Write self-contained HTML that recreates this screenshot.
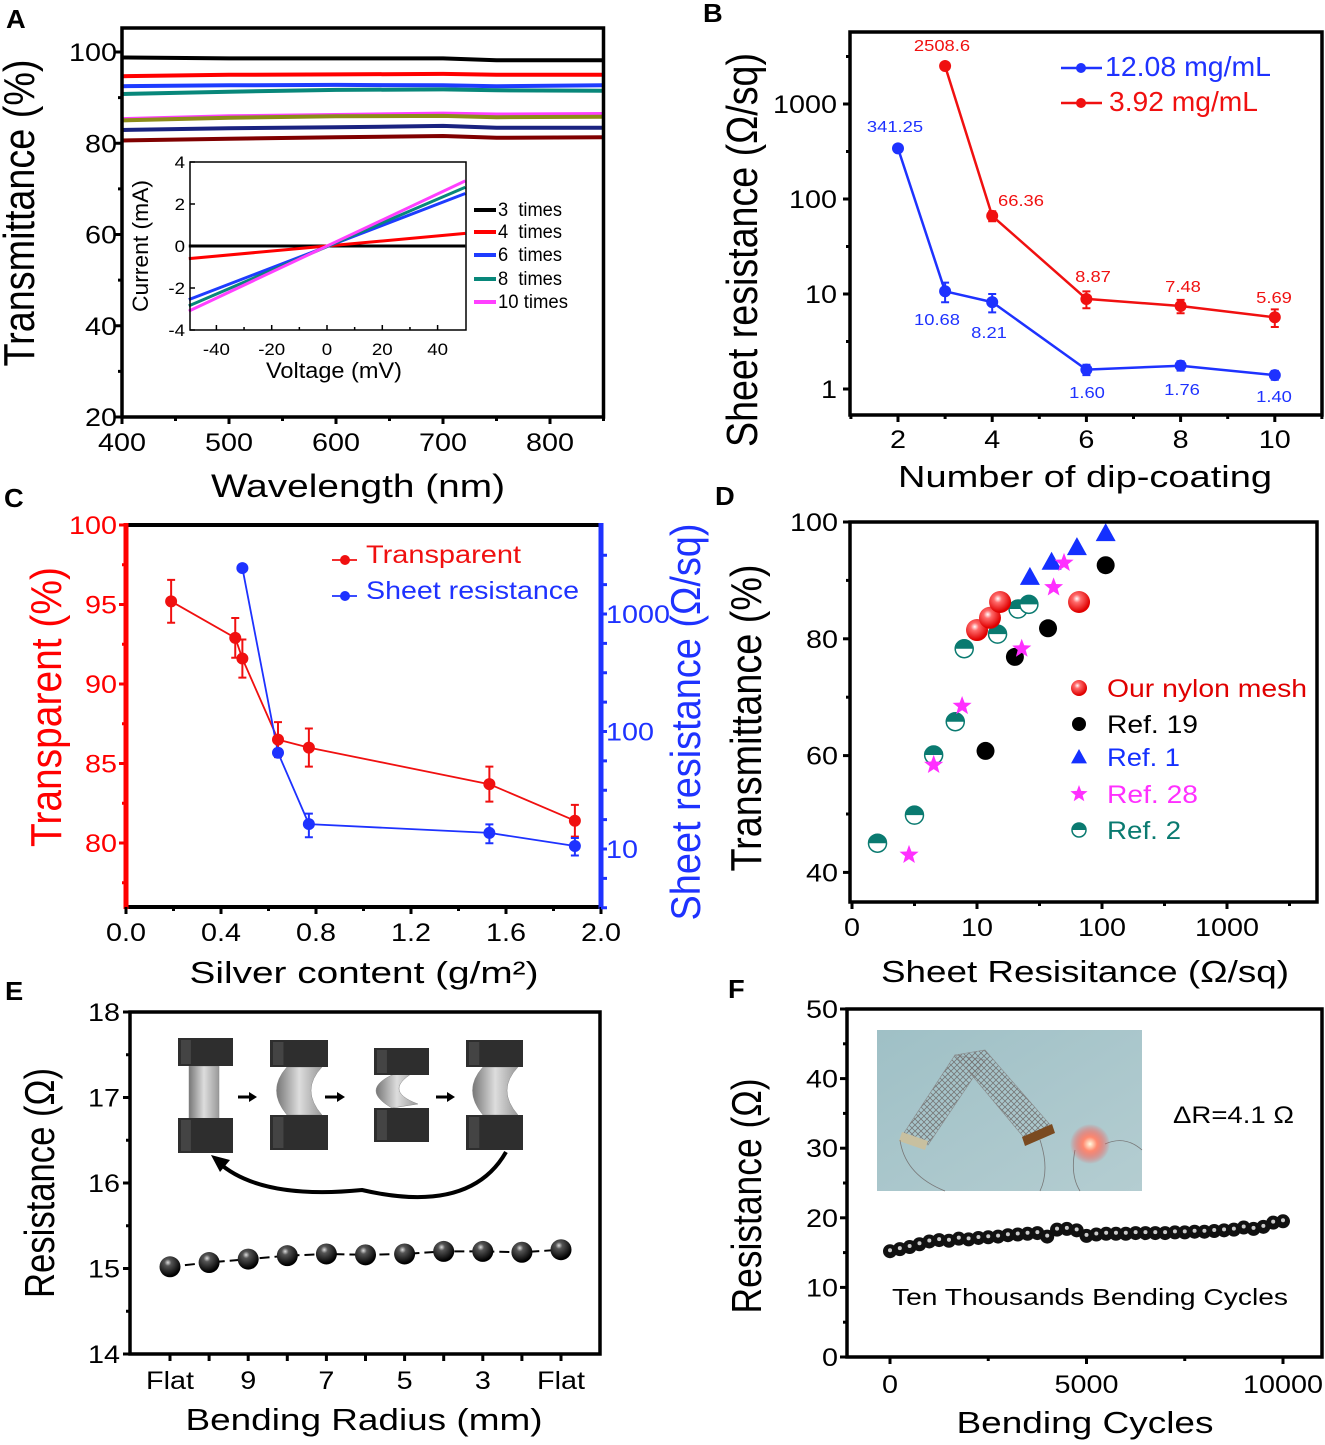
<!DOCTYPE html>
<html><head><meta charset="utf-8"><style>
html,body{margin:0;padding:0;background:#fff;}
svg{display:block;font-family:"Liberation Sans",Arial,sans-serif;}
text{white-space:pre;}
</style></head><body>
<svg id="fig" xmlns="http://www.w3.org/2000/svg" width="1325" height="1445" viewBox="0 0 1325 1445">
<defs>
<radialGradient id="gRed" cx="0.4" cy="0.35" r="0.6"><stop offset="0" stop-color="#fff"/><stop offset="0.3" stop-color="#ff6a6a"/><stop offset="1" stop-color="#e00000"/></radialGradient>
<radialGradient id="gBlk" cx="0.4" cy="0.3" r="0.65"><stop offset="0" stop-color="#ddd"/><stop offset="0.25" stop-color="#555"/><stop offset="1" stop-color="#000"/></radialGradient>
<radialGradient id="gLed" cx="0.5" cy="0.5" r="0.5"><stop offset="0" stop-color="#fffbe0"/><stop offset="0.35" stop-color="#ff8a70"/><stop offset="1" stop-color="#ff3030" stop-opacity="0"/></radialGradient>
<linearGradient id="gStrip" x1="0" x2="1"><stop offset="0" stop-color="#777"/><stop offset="0.5" stop-color="#ddd"/><stop offset="1" stop-color="#999"/></linearGradient>
<linearGradient id="gPhoto" x1="0" y1="0" x2="1" y2="1"><stop offset="0" stop-color="#9fc0c6"/><stop offset="1" stop-color="#b4cdd1"/></linearGradient>
<pattern id="mesh" width="6" height="6" patternUnits="userSpaceOnUse"><path d="M0 0L6 6M6 0L0 6" stroke="#777" stroke-width="0.8"/></pattern>
</defs>
</svg>
<script>
// ---------- DATA ----------
// Panel A
const aWavelengths = [400, 500, 600, 700, 750, 850];
const aS3  = [98.8, 98.6, 98.6, 98.6, 98.2, 98.2];
const aS4  = [94.7, 95.0, 95.1, 95.2, 95.0, 95.0];
const aS6  = [92.5, 92.7, 92.8, 92.7, 92.5, 92.7];
const aS8  = [90.8, 91.3, 91.7, 91.8, 91.6, 91.5];
const aS10 = [85.3, 85.9, 86.2, 86.5, 86.3, 86.4];
const aSol = [85.0, 85.6, 85.9, 86.0, 85.7, 85.8];
const aSnv = [82.9, 83.3, 83.5, 83.8, 83.4, 83.4];
const aSdr = [80.6, 81.0, 81.3, 81.6, 81.2, 81.3];
const aYTicks = [20, 40, 60, 80, 100];
const aXTicks = [400, 500, 600, 700, 800];
const insetV = [-50, 50];
const insetI3 = [0, 0];
const insetI4 = [-0.6, 0.6];
const insetI6 = [-2.55, 2.5];
const insetI8 = [-2.85, 2.8];
const insetI10 = [-3.1, 3.1];
const insetLegend = ["3  times", "4  times", "6  times", "8  times", "10 times"];
// Panel B
const bXBlue = [2, 3, 4, 6, 8, 10];
const bBlue = [341.25, 10.68, 8.21, 1.60, 1.76, 1.40];
const bBlueErr = [0, 2.5, 1.8, 0.2, 0.2, 0.15];
const bBlueLbl = ["341.25", "10.68", "8.21", "1.60", "1.76", "1.40"];
const bXRed = [3, 4, 6, 8, 10];
const bRed = [2508.6, 66.36, 8.87, 7.48, 5.69];
const bRedErr = [0, 8, 1.8, 1.2, 1.2];
const bRedLbl = ["2508.6", "66.36", "8.87", "7.48", "5.69"];
const bXTicks = [2, 4, 6, 8, 10];
const bYTicks = [1, 10, 100, 1000];
// Panel C
const cX = [0.19, 0.46, 0.49, 0.64, 0.77, 1.53, 1.89];
const cT = [95.2, 92.9, 91.6, 86.5, 86.0, 83.7, 81.4];
const cTErr = [1.35, 1.25, 1.2, 1.1, 1.2, 1.1, 1.0];
const cXR = [0.49, 0.64, 0.77, 1.53, 1.89];
const cR = [2460, 66, 16.3, 13.7, 10.6];
const cRErr = [0, 5, 3.7, 2.5, 1.8];
const cXTicks = [0.0, 0.4, 0.8, 1.2, 1.6, 2.0];
const cLTicks = [80, 85, 90, 95, 100];
const cRTicks = [10, 100, 1000];
// Panel D
const dOurX = [10.0, 12.7, 15.3, 65.5];   const dOurY = [81.5, 83.6, 86.3, 86.3];
const dR19X = [11.7, 20.1, 37, 107];      const dR19Y = [60.8, 76.9, 81.8, 92.6];
const dR1X = [26.5, 39.5, 63, 107];       const dR1Y = [90.6, 93.2, 95.7, 98.1];
const dR28X = [2.86, 4.5, 7.6, 22.8, 41, 49.7]; const dR28Y = [43.0, 58.4, 68.5, 78.3, 88.8, 93.0];
const dR2X = [1.6, 3.16, 4.5, 6.7, 7.9, 14.6, 21.3, 26]; const dR2Y = [45.0, 49.8, 60.1, 65.8, 78.3, 80.8, 85.1, 85.9];
const dXTicks = [1, 10, 100, 1000];
const dXLabels = ["0", "10", "100", "1000"];
const dYTicks = [40, 60, 80, 100];
// Panel E
const eCats = ["Flat", "", "9", "", "7", "", "5", "", "3", "", "Flat"];
const eVals = [15.02, 15.07, 15.11, 15.15, 15.17, 15.16, 15.17, 15.20, 15.20, 15.19, 15.22];
const eYTicks = [14, 15, 16, 17, 18];
// Panel F
const fCycles = [0,250,500,750,1000,1250,1500,1750,2000,2250,2500,2750,3000,3250,3500,3750,4000,4250,4500,4750,5000,5250,5500,5750,6000,6250,6500,6750,7000,7250,7500,7750,8000,8250,8500,8750,9000,9250,9500,9750,10000];
const fVals = [15.2,15.5,15.8,16.2,16.6,16.8,16.7,17.0,16.9,17.1,17.2,17.3,17.5,17.6,17.7,17.8,17.3,18.3,18.4,18.2,17.4,17.6,17.7,17.7,17.7,17.8,17.8,17.8,17.8,17.9,17.9,18.0,18.0,18.1,18.2,18.3,18.6,18.4,18.7,19.3,19.5];
const fXTicks = [0, 5000, 10000];
const fYTicks = [0, 10, 20, 30, 40, 50];

// ---------- HELPERS ----------
const NS = 'http://www.w3.org/2000/svg';
const svg = document.getElementById('fig');
const TK = 25, TKS = 1.15;
function E(tag, attrs, parent) {
  const e = document.createElementNS(NS, tag);
  for (const k in attrs) e.setAttribute(k, attrs[k]);
  (parent || svg).appendChild(e);
  return e;
}
function G(name) {
  const g = E('g', {});
  
  
  return g;
}
function T(g, x, y, s, size, name, o) {
  o = o || {};
  const t = E('text', {'font-size': size, 'text-anchor': o.a || 'middle', fill: o.f || '#000'}, g);
  if (o.w) t.setAttribute('font-weight', o.w);
  if (o.len) { t.setAttribute('textLength', o.len); t.setAttribute('lengthAdjust', 'spacingAndGlyphs'); }
  if (o.r) t.setAttribute('transform', `translate(${x},${y}) rotate(-90) scale(1,${o.sy || 1.1})`);
  else if (o.len) { t.setAttribute('x', x); t.setAttribute('y', y); }
  else t.setAttribute('transform', `translate(${x},${y}) scale(${o.sx || TKS},1)`);
  t.textContent = s;
  
  
  return t;
}
function L(g, x1, y1, x2, y2, stroke, w, name, dash) {
  const l = E('line', {x1, y1, x2, y2, stroke, 'stroke-width': w}, g);
  if (dash) l.setAttribute('stroke-dasharray', dash);
  
  
  return l;
}
function box(g, x0, y0, x1, y1, w, name) {
  const r = E('rect', {x: x0, y: y0, width: x1 - x0, height: y1 - y0, fill: 'none', stroke: '#000', 'stroke-width': w || 3.5}, g);
  
  
}
function poly(g, xs, ys, sx, sy, stroke, w, name, dash) {
  const pts = xs.map((v, i) => sx(v).toFixed(1) + ',' + sy(ys[i]).toFixed(1)).join(' ');
  const p = E('polyline', {points: pts, fill: 'none', stroke, 'stroke-width': w, 'stroke-linejoin': 'round'}, g);
  if (dash) p.setAttribute('stroke-dasharray', dash);
  
  
}
function dot(g, x, y, r, fill, name, stroke) {
  const c = E('circle', {cx: x, cy: y, r, fill}, g);
  if (stroke) { c.setAttribute('stroke', stroke); c.setAttribute('stroke-width', 1); }
  
  
  return c;
}
function errbar(g, x, y1, y2, color, name) {
  const p = E('path', {d: `M${x},${y1}V${y2}M${x - 4},${y1}h8M${x - 4},${y2}h8`, stroke: color, 'stroke-width': 2, fill: 'none'}, g);
  
  
}
function letter(x, y, s) { const g = G('panel-label-' + s); T(g, x, y, s, 26, 'panel-letter-' + s, {a: 'start', w: 'bold', sx: 1.05}); }
const lg = v => Math.log10(v);

// ---------- PANEL A ----------
(function () {
  const g = G('panel-a');
  const ax = v => 122 + (v - 400) * (481.5 / 450);
  const ay = v => 52 + (100 - v) * 4.5625;
  const series = [[aS3, '#000'], [aS4, '#f00'], [aS6, '#1e3cff'], [aS8, '#08877a'], [aS10, '#ff40ff'], [aSol, '#8c8c18'], [aSnv, '#1a2280'], [aSdr, '#800000']];
  series.forEach((s, i) => poly(g, aWavelengths, s[0], ax, ay, s[1], 4, 'transmittance-line-' + i));
  box(g, 122, 28, 603.5, 417, 3.5, 'plot-frame-a');
  aXTicks.forEach(v => { L(g, ax(v), 417, ax(v), 424, '#000', 3, 'x-tick-a'); T(g, ax(v), 451, String(v), TK, 'x-tick-label-a'); });
  [450, 550, 650, 750, 850].forEach(v => L(g, ax(v), 417, ax(v), 421, '#000', 3, 'x-minor-tick-a'));
  aYTicks.forEach(v => { L(g, 115, ay(v), 122, ay(v), '#000', 3, 'y-tick-a'); T(g, 117, ay(v) + 9, String(v), TK, 'y-tick-label-a', {a: 'end'}); });
  [30, 50, 70, 90].forEach(v => L(g, 118, ay(v), 122, ay(v), '#000', 3, 'y-minor-tick-a'));
  T(g, 358, 497, 'Wavelength (nm)', 32, 'x-axis-title-a', {len: 294});
  T(g, 34, 213, 'Transmittance (%)', 40, 'y-axis-title-a', {r: true, len: 307});
  const ig = G('inset-iv-curves');
  const ix = v => 327 + v * 2.765;
  const iy = v => 246 - v * 21;
  E('rect', {x: 190, y: 162, width: 276, height: 168, fill: '#fff'}, ig);
  const ser = [[insetI3, '#000'], [insetI4, '#f00'], [insetI6, '#1e3cff'], [insetI8, '#08877a'], [insetI10, '#ff40ff']];
  ser.forEach((s, i) => poly(ig, insetV, s[0], ix, iy, s[1], 3, 'iv-line-' + i));
  box(ig, 190, 162, 466, 330, 1.5, 'inset-frame');
  [-40, -20, 0, 20, 40].forEach(v => { L(ig, ix(v), 330, ix(v), 325, '#000', 1.5, 'inset-x-tick'); T(ig, ix(v), 355, String(v), 17, 'inset-x-tick-label', {sx: 1.1}); });
  [-30, -10, 10, 30].forEach(v => L(ig, ix(v), 330, ix(v), 327, '#000', 1.5, 'inset-x-minor-tick'));
  [-4, -2, 0, 2, 4].forEach(v => { L(ig, 190, iy(v), 195, iy(v), '#000', 1.5, 'inset-y-tick'); T(ig, 185, iy(v) + 6, String(v), 17, 'inset-y-tick-label', {a: 'end', sx: 1.1}); });
  T(ig, 334, 378, 'Voltage (mV)', 22, 'inset-x-axis-title', {len: 136});
  T(ig, 148, 246, 'Current (mA)', 22, 'inset-y-axis-title', {r: true, len: 132, sy: 1});
  const ly = [208, 230, 253, 277, 300];
  ser.forEach((s, i) => { L(ig, 474, ly[i] + 2, 496, ly[i] + 2, s[1], 4, 'inset-legend-swatch'); T(ig, 498, ly[i] + 8, insetLegend[i], 19, 'inset-legend-label', {a: 'start', len: i === 4 ? 70 : 64}); });
  letter(6, 28, 'A');
})();

// ---------- PANEL B ----------
(function () {
  const g = G('panel-b');
  const bx = v => 898 + (v - 2) * 47.1;
  const by = v => 389 - lg(v) * 95;
  poly(g, bXBlue, bBlue, bx, by, '#1e32ff', 2.5, 'blue-series-line');
  poly(g, bXRed, bRed, bx, by, '#f01010', 2.5, 'red-series-line');
  bXBlue.forEach((x, i) => { if (bBlueErr[i]) errbar(g, bx(x), by(bBlue[i] + bBlueErr[i]), by(bBlue[i] - bBlueErr[i]), '#1e32ff', 'blue-error-bar'); dot(g, bx(x), by(bBlue[i]), 6, '#1e32ff', 'blue-point'); });
  bXRed.forEach((x, i) => { if (bRedErr[i]) errbar(g, bx(x), by(bRed[i] + bRedErr[i]), by(bRed[i] - bRedErr[i]), '#f01010', 'red-error-bar'); dot(g, bx(x), by(bRed[i]), 6, '#f01010', 'red-point'); });
  const bl = [[895, 132], [937, 325], [989, 338], [1087, 398], [1182, 395], [1274, 402]];
  bBlueLbl.forEach((s, i) => T(g, bl[i][0], bl[i][1], s, 16, 'blue-value-label', {f: '#1e32ff', sx: 1.15}));
  const rl = [[942, 51], [1021, 206], [1093, 282], [1183, 292], [1274, 303]];
  bRedLbl.forEach((s, i) => T(g, rl[i][0], rl[i][1], s, 16, 'red-value-label', {f: '#f01010', sx: 1.15}));
  box(g, 850, 32, 1322, 415, 3.5, 'plot-frame-b');
  bXTicks.forEach(v => { L(g, bx(v), 415, bx(v), 422, '#000', 3, 'x-tick-b'); T(g, bx(v), 448, String(v), TK, 'x-tick-label-b'); });
  [1, 3, 5, 7, 9, 11].forEach(v => L(g, bx(v), 415, bx(v), 419, '#000', 3, 'x-minor-tick-b'));
  bYTicks.forEach(v => { L(g, 843, by(v), 850, by(v), '#000', 3, 'y-tick-b'); T(g, 837, by(v) + 9, String(v), TK, 'y-tick-label-b', {a: 'end'}); });
  [0.5, 1.5, 2.5, 3.5].forEach(e => L(g, 846, 389 - e * 95, 850, 389 - e * 95, '#000', 3, 'y-minor-tick-b'));
  T(g, 1085, 487, 'Number of dip-coating', 31, 'x-axis-title-b', {len: 374});
  T(g, 757, 250, 'Sheet resistance (\u03A9/sq)', 40, 'y-axis-title-b', {r: true, len: 394});
  L(g, 1061, 68, 1102, 68, '#1e32ff', 2.5, 'legend-swatch-blue'); dot(g, 1081, 68, 5, '#1e32ff', 'legend-marker-blue');
  L(g, 1061, 103, 1102, 103, '#f01010', 2.5, 'legend-swatch-red'); dot(g, 1081, 103, 5, '#f01010', 'legend-marker-red');
  T(g, 1105, 76, '12.08 mg/mL', 28, 'legend-label-blue', {a: 'start', f: '#1e32ff', len: 166});
  T(g, 1109, 111, '3.92 mg/mL', 28, 'legend-label-red', {a: 'start', f: '#f01010', len: 149});
  letter(703, 22, 'B');
})();

// ---------- PANEL C ----------
(function () {
  const g = G('panel-c');
  const cx = v => 126 + v * 237.5;
  const cyL = v => 525 + (100 - v) * 15.9;
  const cyR = v => 849 - (lg(v) - 1) * 117.5;
  poly(g, cX, cT, cx, cyL, '#f01010', 1.8, 'transparency-line');
  poly(g, cXR, cR, cx, cyR, '#1e32ff', 1.8, 'resistance-line');
  cX.forEach((x, i) => { errbar(g, cx(x), cyL(cT[i] + cTErr[i]), cyL(cT[i] - cTErr[i]), '#f01010', 'transparency-error-bar'); dot(g, cx(x), cyL(cT[i]), 6, '#f01010', 'transparency-point'); });
  cXR.forEach((x, i) => { if (cRErr[i]) errbar(g, cx(x), cyR(cR[i] + cRErr[i]), cyR(cR[i] - cRErr[i]), '#1e32ff', 'resistance-error-bar'); dot(g, cx(x), cyR(cR[i]), 6, '#1e32ff', 'resistance-point'); });
  L(g, 126, 525, 601, 525, '#000', 4, 'top-frame-c');
  L(g, 126, 907, 601, 907, '#000', 4, 'bottom-frame-c');
  L(g, 126, 523, 126, 909, '#f00', 5, 'left-axis-c');
  L(g, 601, 523, 601, 909, '#1e32ff', 5, 'right-axis-c');
  cXTicks.forEach(v => { L(g, cx(v), 907, cx(v), 914, '#000', 3, 'x-tick-c'); T(g, cx(v), 941, v.toFixed(1), TK, 'x-tick-label-c'); });
  [0.2, 0.6, 1.0, 1.4, 1.8].forEach(v => L(g, cx(v), 907, cx(v), 911, '#000', 3, 'x-minor-tick-c'));
  cLTicks.forEach(v => { L(g, 119, cyL(v), 126, cyL(v), '#f00', 3, 'left-tick-c'); T(g, 117, cyL(v) + 9, String(v), TK, 'left-tick-label-c', {a: 'end', f: '#f00'}); });
  [77.5, 82.5, 87.5, 92.5, 97.5].forEach(v => L(g, 122, cyL(v), 126, cyL(v), '#f00', 3, 'left-minor-tick-c'));
  cRTicks.forEach(v => T(g, 606, cyR(v) + 9, String(v), TK, 'right-tick-label-c', {a: 'start', f: '#1e32ff'}));
  [0.5, 0.75, 1, 1.25, 1.5, 1.75, 2, 2.25, 2.5, 2.75, 3, 3.25, 3.5].forEach(e => L(g, 601, 849 - (e - 1) * 117.5, 607, 849 - (e - 1) * 117.5, '#1e32ff', 3, 'right-tick-c'));
  T(g, 364, 983, 'Silver content (g/m\u00B2)', 31, 'x-axis-title-c', {len: 349});
  T(g, 61, 707, 'Transparent (%)', 40, 'left-axis-title-c', {r: true, len: 280, f: '#f00'});
  T(g, 700, 722, 'Sheet resistance (\u03A9/sq)', 38, 'right-axis-title-c', {r: true, len: 397, f: '#1e32ff'});
  L(g, 332, 560, 357, 560, '#f01010', 1.8, 'legend-swatch-transparent'); dot(g, 345, 560, 5, '#f01010', 'legend-marker-transparent');
  L(g, 332, 596, 357, 596, '#1e32ff', 1.8, 'legend-swatch-resistance'); dot(g, 345, 596, 5, '#1e32ff', 'legend-marker-resistance');
  T(g, 366, 563, 'Transparent', 25, 'legend-label-transparent', {a: 'start', f: '#f01010', len: 155});
  T(g, 366, 599, 'Sheet resistance', 25, 'legend-label-resistance', {a: 'start', f: '#1e32ff', len: 213});
  letter(4, 507, 'C');
})();

// ---------- PANEL D ----------
function tri(g, x, y, s, name) { const p = E('path', {d: `M${x},${y - s}L${x + s},${y + s * 0.8}L${x - s},${y + s * 0.8}Z`, fill: '#1430ff'}, g);   }
function star(g, x, y, r, name) {
  let d = '';
  for (let k = 0; k < 10; k++) { const a = -Math.PI / 2 + k * Math.PI / 5; const rr = k % 2 ? r * 0.42 : r; d += (k ? 'L' : 'M') + (x + rr * Math.cos(a)).toFixed(1) + ',' + (y + rr * Math.sin(a)).toFixed(1); }
  const p = E('path', {d: d + 'Z', fill: '#ff30ff'}, g);  
}
function half(g, x, y, r, name) {
  const c = dot(g, x, y, r, '#fff', name, '#0a7a70'); c.setAttribute('stroke-width', 1.5);
  const p = E('path', {d: `M${x - r},${y}A${r},${r} 0 0 1 ${x + r},${y}Z`, fill: '#0a7a70'}, g);  
}
(function () {
  const g = G('panel-d');
  const dx = v => 852 + lg(v) * 125;
  const dy = v => 522 + (100 - v) * 5.84;
  dR2X.forEach((x, i) => half(g, dx(x), dy(dR2Y[i]), 9, 'ref2-point'));
  dR19X.forEach((x, i) => dot(g, dx(x), dy(dR19Y[i]), 9, '#000', 'ref19-point'));
  dOurX.forEach((x, i) => dot(g, dx(x), dy(dOurY[i]), 11, 'url(#gRed)', 'our-mesh-point'));
  dR1X.forEach((x, i) => tri(g, dx(x), dy(dR1Y[i]), 10, 'ref1-point'));
  dR28X.forEach((x, i) => star(g, dx(x), dy(dR28Y[i]), 10, 'ref28-point'));
  box(g, 850, 522, 1317, 902, 3.5, 'plot-frame-d');
  dXTicks.forEach((v, i) => { L(g, dx(v), 902, dx(v), 909, '#000', 3, 'x-tick-d'); T(g, dx(v), 936, dXLabels[i], TK, 'x-tick-label-d'); });
  [0.5, 1.5, 2.5, 3.5].forEach(e => L(g, 852 + e * 125, 902, 852 + e * 125, 906, '#000', 3, 'x-minor-tick-d'));
  dYTicks.forEach(v => { L(g, 843, dy(v), 850, dy(v), '#000', 3, 'y-tick-d'); T(g, 838, dy(v) + 9, String(v), TK, 'y-tick-label-d', {a: 'end'}); });
  [50, 70, 90].forEach(v => L(g, 846, dy(v), 850, dy(v), '#000', 3, 'y-minor-tick-d'));
  T(g, 1085, 982, 'Sheet Resisitance (\u03A9/sq)', 31, 'x-axis-title-d', {len: 408});
  T(g, 761, 718, 'Transmittance (%)', 40, 'y-axis-title-d', {r: true, len: 307});
  const lx = 1079, ly = [688, 724, 757, 794, 830];
  dot(g, lx, ly[0], 8, 'url(#gRed)', 'legend-marker-our');
  dot(g, lx, ly[1], 7, '#000', 'legend-marker-ref19');
  tri(g, lx, ly[2], 8, 'legend-marker-ref1');
  star(g, lx, ly[3], 9, 'legend-marker-ref28');
  half(g, lx, ly[4], 7, 'legend-marker-ref2');
  const names = [['Our nylon mesh', '#e00000', 200], ['Ref. 19', '#000', 91], ['Ref. 1', '#1430ff', 73], ['Ref. 28', '#ff30ff', 91], ['Ref. 2', '#0a7a70', 74]];
  names.forEach((n, i) => T(g, 1107, ly[i] + 9, n[0], 25, 'legend-label-d', {a: 'start', f: n[1], len: n[2]}));
  letter(715, 505, 'D');
})();

// ---------- PANEL E ----------
(function () {
  const g = G('panel-e');
  const ex = i => 170 + i * 39.1;
  const ey = v => 1012 + (18 - v) * 85.5;
  const il = G('bending-illustration');
  function blk(x, y, w, h) { const r = E('rect', {x, y, width: w, height: h, fill: '#2e2e2e'}, il);   const s = E('rect', {x: x + 3, y: y + 2, width: w * 0.18, height: h - 4, fill: '#444'}, il);   }
  function strip(d) { const p = E('path', {d, fill: 'url(#gStrip)', stroke: '#888', 'stroke-width': 0.5}, il);   }
  strip('M189,1066L219,1066L219,1118L189,1124Z');
  strip('M287,1067L322,1067Q300,1090 322,1115L287,1115Q266,1090 287,1067Z');
  strip('M392,1075L418,1070Q380,1090 418,1104L392,1108Q360,1090 392,1075Z');
  strip('M483,1067L518,1067Q496,1090 518,1115L483,1115Q462,1090 483,1067Z');
  blk(178, 1038, 55, 28); blk(178, 1118, 55, 35);
  blk(270, 1040, 58, 27); blk(270, 1115, 58, 35);
  blk(374, 1048, 55, 27); blk(374, 1108, 55, 34);
  blk(466, 1040, 57, 27); blk(466, 1115, 57, 35);
  [[238, 257], [325, 345], [436, 455]].forEach(a => { const p = E('path', {d: `M${a[0]},1097H${a[1] - 6}`, stroke: '#000', 'stroke-width': 3}, il);   const h = E('path', {d: `M${a[1]},1097L${a[1] - 8},1092L${a[1] - 8},1102Z`, fill: '#000'}, il);   });
  const ca = E('path', {d: 'M506,1152Q470,1215 362,1190Q260,1200 218,1162', stroke: '#000', 'stroke-width': 4, fill: 'none'}, il);
  
  
  const cah = E('path', {d: 'M211,1155L230,1160L220,1172Z', fill: '#000'}, il);
  
  
  poly(g, eVals.map((v, i) => i), eVals, ex, ey, '#000', 2, 'resistance-dashed-line', '10,5');
  eVals.forEach((v, i) => dot(g, ex(i), ey(v), 10.5, 'url(#gBlk)', 'resistance-point'));
  box(g, 130, 1012, 600, 1354, 3.5, 'plot-frame-e');
  eCats.forEach((c, i) => { L(g, ex(i), 1354, ex(i), 1361, '#000', 3, 'x-tick-e'); if (c) T(g, ex(i), 1389, c, TK, 'x-tick-label-e'); });
  eYTicks.forEach(v => { L(g, 123, ey(v), 130, ey(v), '#000', 3, 'y-tick-e'); T(g, 120, ey(v) + 9, String(v), TK, 'y-tick-label-e', {a: 'end'}); });
  [14.5, 15.5, 16.5, 17.5].forEach(v => L(g, 126, ey(v), 130, ey(v), '#000', 3, 'y-minor-tick-e'));
  T(g, 364, 1430, 'Bending Radius (mm)', 31, 'x-axis-title-e', {len: 357});
  T(g, 54, 1183, 'Resistance (\u03A9)', 38, 'y-axis-title-e', {r: true, len: 230});
  letter(5, 1000, 'E');
})();

// ---------- PANEL F ----------
(function () {
  const g = G('panel-f');
  const fx = v => 890 + v * 0.0393;
  const fy = v => 1357 - v * 6.96;
  const ph = G('led-photo-inset');
  const r = E('rect', {x: 877, y: 1030, width: 265, height: 161, fill: 'url(#gPhoto)'}, ph);
  
  
  const m1 = E('path', {d: 'M902,1136L928,1145L985,1060L955,1055Z', fill: 'url(#mesh)', stroke: '#888', 'stroke-width': 0.6}, ph);
  
  
  const m2 = E('path', {d: 'M955,1055L985,1050L1052,1127L1026,1140Z', fill: 'url(#mesh)', stroke: '#888', 'stroke-width': 0.6}, ph);
  
  
  const e1 = E('path', {d: 'M902,1132L928,1141L925,1150L899,1141Z', fill: '#c8c0a0'}, ph);
  
  
  const e2 = E('path', {d: 'M1022,1137L1052,1124L1055,1133L1025,1146Z', fill: '#7a4a20'}, ph);
  
  
  const w = E('path', {d: 'M900,1140Q905,1175 945,1191M1040,1140Q1050,1170 1040,1191M1075,1150Q1070,1175 1080,1191M1105,1144Q1125,1135 1142,1150', stroke: '#777', 'stroke-width': 0.8, fill: 'none'}, ph);
  
  
  dot(ph, 1090, 1144, 20, 'url(#gLed)', 'led-glow');
  poly(g, fCycles, fVals, fx, fy, '#000', 6, 'resistance-trace');
  fCycles.forEach((c, i) => { dot(g, fx(c), fy(fVals[i]), 7, '#111', 'cycle-point'); dot(g, fx(c), fy(fVals[i]) - 1, 2, '#ccc', 'cycle-point-highlight'); });
  box(g, 847, 1009, 1322, 1357, 3.5, 'plot-frame-f');
  fXTicks.forEach(v => { L(g, fx(v), 1357, fx(v), 1364, '#000', 3, 'x-tick-f'); T(g, fx(v), 1393, String(v), TK, 'x-tick-label-f'); });
  [2500, 7500].forEach(v => L(g, fx(v), 1357, fx(v), 1361, '#000', 3, 'x-minor-tick-f'));
  fYTicks.forEach(v => { L(g, 840, fy(v), 847, fy(v), '#000', 3, 'y-tick-f'); T(g, 838, fy(v) + 9, String(v), TK, 'y-tick-label-f', {a: 'end'}); });
  [5, 15, 25, 35, 45].forEach(v => L(g, 843, fy(v), 847, fy(v), '#000', 3, 'y-minor-tick-f'));
  T(g, 1173, 1123, '\u0394R=4.1 \u03A9', 24, 'delta-r-annotation', {a: 'start', len: 121});
  T(g, 892, 1305, 'Ten Thousands Bending Cycles', 23, 'cycles-annotation', {a: 'start', len: 396});
  T(g, 1085, 1433, 'Bending Cycles', 31, 'x-axis-title-f', {len: 257});
  T(g, 761, 1196, 'Resistance (\u03A9)', 38, 'y-axis-title-f', {r: true, len: 235});
  letter(728, 998, 'F');
})();
</script>
</body></html>
